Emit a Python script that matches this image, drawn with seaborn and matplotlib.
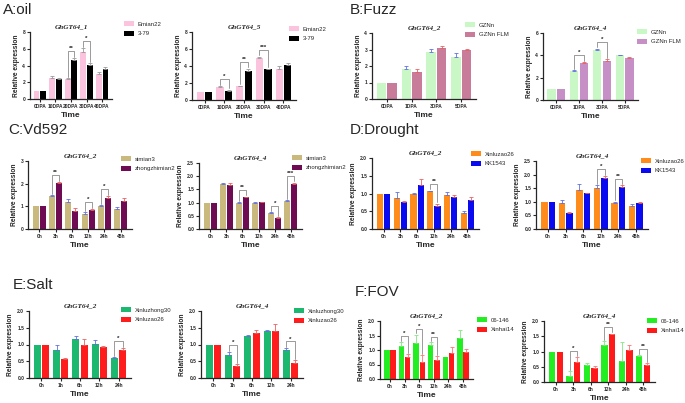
import numpy as np
import pandas as pd
import matplotlib
matplotlib.use('Agg')
import matplotlib.pyplot as plt
from matplotlib.patches import Patch
import seaborn as sns

sns.set_style('ticks')
plt.rcParams['font.family'] = ['Liberation Sans', 'DejaVu Sans']

W, H = 685, 403

# categories
dpa5 = ['0DPA', '10DPA', '20DPA', '30DPA', '40DPA']
dpa4 = ['0DPA', '1DPA', '3DPA', '5DPA']
hours6 = ['0h', '3h', '6h', '12h', '24h', '48h']
hours5 = ['0h', '1h', '6h', '12h', '24h']

# A: oil
a1_emian22 = [1.0, 2.5, 2.4, 5.6, 3.0]
a1_emian22_err = [0, 0.3, 0.1, 0.5, 0.2]
a1_379 = [1.0, 2.4, 4.6, 4.1, 3.6]
a1_379_err = [0, 0.1, 0.3, 0.2, 0.2]
a1_sig = [(2, '**'), (3, '*')]

a2_emian22 = [1.0, 1.5, 1.6, 5.0, 3.6]
a2_emian22_err = [0, 0.15, 0.1, 0.1, 0.4]
a2_379 = [1.0, 1.1, 3.4, 3.6, 4.1]
a2_379_err = [0, 0.1, 0.3, 0.1, 0.2]
a2_sig = [(1, '*'), (2, '**'), (3, '***')]

# B: Fuzz
b1_gznn = [1.0, 1.8, 2.85, 2.55]
b1_gznn_err = [0, 0.22, 0.2, 0.25]
b1_flm = [1.0, 1.65, 3.1, 3.0]
b1_flm_err = [0, 0.15, 0.1, 0.05]

b2_gznn = [1.0, 2.6, 4.5, 4.0]
b2_gznn_err = [0, 0.1, 0.1, 0.05]
b2_flm = [1.0, 3.3, 3.45, 3.75]
b2_flm_err = [0, 0.1, 0.2, 0.1]
b2_sig = [(1, '*'), (2, '*')]

# C: Vd592
c1_simian3 = [1.0, 1.45, 1.18, 0.68, 1.0, 0.9]
c1_simian3_err = [0, 0.05, 0.15, 0.05, 0.05, 0.05]
c1_zzm2 = [1.0, 2.02, 0.8, 0.85, 1.38, 1.25]
c1_zzm2_err = [0, 0.05, 0.12, 0.03, 0.08, 0.12]
c1_sig = [(1, '**'), (3, '*'), (4, '*')]

c2_simian3 = [1.0, 1.72, 1.0, 0.98, 0.6, 1.05]
c2_simian3_err = [0, 0.03, 0.02, 0.05, 0.03, 0.05]
c2_zzm2 = [1.0, 1.68, 1.2, 1.02, 0.42, 1.7]
c2_zzm2_err = [0, 0.07, 0.03, 0.02, 0.03, 0.05]
c2_sig = [(2, '**'), (4, '*'), (5, '***')]

# D: Drought
d1_xlz26 = [1.0, 0.87, 1.0, 1.06, 0.97, 0.45]
d1_xlz26_err = [0, 0.18, 0.02, 0.02, 0.08, 0.07]
d1_kk1543 = [1.0, 0.77, 1.23, 0.66, 0.89, 0.81]
d1_kk1543_err = [0, 0.03, 0.17, 0.05, 0.08, 0.1]
d1_sig = [(3, '**')]

d2_xlz26 = [1.0, 0.95, 1.45, 1.52, 0.97, 0.85]
d2_xlz26_err = [0, 0.1, 0.2, 0.1, 0.03, 0.08]
d2_kk1543 = [1.0, 0.58, 1.32, 1.87, 1.55, 0.95]
d2_kk1543_err = [0, 0.05, 0.02, 0.07, 0.05, 0.05]
d2_sig = [(3, '*'), (4, '**')]

# E: Salt
e1_xlzh30 = [1.0, 0.84, 1.16, 1.02, 0.61]
e1_xlzh30_err = [0, 0.16, 0.1, 0.1, 0.02]
e1_xlz26 = [1.0, 0.58, 1.0, 0.92, 0.85]
e1_xlz26_err = [0, 0.02, 0.15, 0.03, 0.05]
e1_sig = [(4, '*')]

e2_xlzh30 = [1.0, 0.7, 1.24, 1.4, 0.84]
e2_xlzh30_err = [0, 0.08, 0.05, 0.03, 0.05]
e2_xlz26 = [1.0, 0.36, 1.35, 1.4, 0.45]
e2_xlz26_err = [0, 0.05, 0.08, 0.2, 0.08]
e2_sig = [(1, '*'), (4, '*')]

# F: FOV
f1_06146 = [1.0, 1.15, 1.25, 1.18, 0.75, 1.42]
f1_06146_err = [0, 0.12, 0.28, 0.08, 0, 0.28]
f1_xh14 = [1.0, 0.77, 0.57, 0.67, 0.91, 0.94]
f1_xh14_err = [0, 0.08, 0.25, 0.12, 0.18, 0.08]
f1_sig = [(1, '*'), (2, '*'), (3, '**')]

f2_06146 = [1.0, 0.2, 0.56, 1.22, 0.7, 0.85]
f2_06146_err = [0, 0.15, 0.05, 0.12, 0.6, 0.02]
f2_xh14 = [1.0, 0.66, 0.47, 1.56, 1.06, 0.57]
f2_xh14_err = [0, 0.15, 0.04, 0.03, 0.15, 0.06]
f2_sig = [(1, '*'), (3, '**'), (5, '**')]

fig = plt.figure(figsize=(W / 100, H / 100), dpi=100)


def box(l, r, t, b):
    return [l / W, 1 - b / H, (r - l) / W, (b - t) / H]


def panel(pos, cats, names, vals, errs, colors, ecolors, title, ymax, yticks,
          fmt, sig, leg_xy):
    ax = fig.add_axes(box(*pos))
    df = pd.DataFrame({
        'Time': cats * 2,
        'Line': [names[0]] * len(cats) + [names[1]] * len(cats),
        'Value': vals[0] + vals[1],
    })
    sns.barplot(data=df, x='Time', y='Value', hue='Line', order=cats,
                hue_order=names, palette=colors, errorbar=None, width=0.86,
                gap=0.14, saturation=1, linewidth=0, legend=False, ax=ax)
    tops = []
    for cont, err, ec in zip(ax.containers, errs, ecolors):
        xs = np.array([p.get_x() + p.get_width() / 2 for p in cont.patches])
        ys = np.array([p.get_height() for p in cont.patches])
        e = np.array(err)
        m = e > 0
        ax.errorbar(xs[m], ys[m], yerr=[np.zeros(m.sum()), e[m]], fmt='none',
                    ecolor=ec, elinewidth=0.6, capsize=1.4, capthick=0.6)
        tops.append((xs, ys + e))
    for i, stars in sig:
        x1, t1 = tops[0][0][i], tops[0][1][i]
        x2, t2 = tops[1][0][i], tops[1][1][i]
        yb = max(t1, t2) + 0.1 * ymax
        off = 0.02 * ymax
        ax.plot([x1, x1, x2, x2], [t1 + off, yb, yb, t2 + off],
                color='#8a8a8a', lw=0.6)
        ax.text((x1 + x2) / 2, yb, stars, ha='center', va='bottom',
                fontsize=4.5, fontweight='bold')
    ax.set_ylim(0, ymax)
    ax.set_yticks(yticks)
    ax.set_yticklabels([fmt.format(v) for v in yticks])
    ax.set_title(title, fontsize=5.2, fontstyle='italic', fontweight='bold',
                 family='Liberation Serif', pad=3)
    ax.set_xlabel('Time', fontsize=6, fontweight='bold', labelpad=2)
    ax.set_ylabel('Relative expression', fontsize=4.8, fontweight='bold',
                  labelpad=2)
    ax.tick_params(labelsize=3.5, length=2, width=0.8, pad=1.5)
    for lab in ax.get_xticklabels() + ax.get_yticklabels():
        lab.set_fontweight('bold')
    sns.despine(ax=ax)
    for s in ('left', 'bottom'):
        ax.spines[s].set_linewidth(0.9)
    handles = [Patch(facecolor=c, edgecolor='none', label=n)
               for c, n in zip(colors, names)]
    fig.legend(handles=handles, loc='upper left',
               bbox_to_anchor=(leg_xy[0] / W, 1 - leg_xy[1] / H),
               frameon=False, fontsize=4.3, handlelength=1.7, handleheight=0.9,
               handletextpad=0.6, labelspacing=0.7, borderpad=0,
               borderaxespad=0)
    return ax


grey = ('#9a9a9a', '#9a9a9a')
blue_red = ('#6170e0', '#e86060')

panel((30, 112, 32, 99), dpa5, ['Emian22', '3-79'],
      [a1_emian22, a1_379], [a1_emian22_err, a1_379_err],
      ['#fbc3dd', '#000000'], grey, 'GhGT64_1', 8, [0, 2, 4, 6, 8], '{:g}',
      a1_sig, (124, 21))
panel((192, 296, 32, 100), dpa5, ['Emian22', '3-79'],
      [a2_emian22, a2_379], [a2_emian22_err, a2_379_err],
      ['#fbc3dd', '#000000'], grey, 'GhGT64_5', 8, [0, 2, 4, 6, 8], '{:g}',
      a2_sig, (289, 26))
panel((372, 476, 33, 99), dpa4, ['GZNn', 'GZNn FLM'],
      [b1_gznn, b1_flm], [b1_gznn_err, b1_flm_err],
      ['#c9f7c6', '#c97b9a'], blue_red, 'GhGT64_2', 4, [0, 1, 2, 3, 4], '{:g}',
      [], (465, 22))
panel((543, 638, 33, 100), dpa4, ['GZNn', 'GZNn FLM'],
      [b2_gznn, b2_flm], [b2_gznn_err, b2_flm_err],
      ['#c9f7c6', '#c690c6'], blue_red, 'GhGT64_4', 6, [0, 2, 4, 6], '{:g}',
      b2_sig, (637, 29))
panel((28, 132, 161, 229), hours6, ['simian3', 'zhongzhimian2'],
      [c1_simian3, c1_zzm2], [c1_simian3_err, c1_zzm2_err],
      ['#c9b97d', '#6e0b53'], blue_red, 'GhGT64_2', 3, [0, 1, 2, 3], '{:g}',
      c1_sig, (121, 156))
panel((199, 302, 163, 229), hours6, ['simian3', 'zhongzhimian2'],
      [c2_simian3, c2_zzm2], [c2_simian3_err, c2_zzm2_err],
      ['#c9b97d', '#6e0b53'], blue_red, 'GhGT64_4', 2.5,
      [0, 0.5, 1, 1.5, 2, 2.5], '{:.1f}', c2_sig, (292, 155))
panel((372, 479, 158, 229), hours6, ['Xinluzao26', 'KK1543'],
      [d1_xlz26, d1_kk1543], [d1_xlz26_err, d1_kk1543_err],
      ['#ff8c1a', '#0a0af0'], blue_red, 'GhGT64_2', 2,
      [0, 0.5, 1, 1.5, 2], '{:.1f}', d1_sig, (471, 151))
panel((536, 648, 161, 229), hours6, ['Xinluzao26', 'KK1543'],
      [d2_xlz26, d2_kk1543], [d2_xlz26_err, d2_kk1543_err],
      ['#ff8c1a', '#0a0af0'], blue_red, 'GhGT64_4', 2.5,
      [0, 0.5, 1, 1.5, 2, 2.5], '{:.1f}', d2_sig, (641, 158))
panel((29, 131, 311, 378), hours5, ['Xinluzhong30', 'Xinluzao26'],
      [e1_xlzh30, e1_xlz26], [e1_xlzh30_err, e1_xlz26_err],
      ['#1db870', '#ff1c1c'], blue_red, 'GhGT64_2', 2,
      [0, 0.5, 1, 1.5, 2], '{:.1f}', e1_sig, (121, 307))
panel((201, 303, 311, 378), hours5, ['Xinluzhong30', 'Xinluzao26'],
      [e2_xlzh30, e2_xlz26], [e2_xlzh30_err, e2_xlz26_err],
      ['#1db870', '#ff1c1c'], blue_red, 'GhGT64_4', 2,
      [0, 0.5, 1, 1.5, 2], '{:.1f}', e2_sig, (294, 308))
panel((380, 473, 321, 379), hours6, ['06-146', 'Xinhai14'],
      [f1_06146, f1_xh14], [f1_06146_err, f1_xh14_err],
      ['#22ee22', '#ff1a1a'], ('#80e880', '#ff7070'), 'GhGT64_2', 2,
      [0, 0.5, 1, 1.5, 2], '{:.1f}', f1_sig, (477, 317))
panel((544, 655, 321, 382), hours6, ['06-146', 'Xinhai14'],
      [f2_06146, f2_xh14], [f2_06146_err, f2_xh14_err],
      ['#22ee22', '#ff1a1a'], ('#80e880', '#ff7070'), 'GhGT64_4', 2,
      [0, 0.5, 1, 1.5, 2], '{:.1f}', f2_sig, (647, 318))

for x, y, s in [(3, 10, 'A:oil'), (350, 10, 'B:Fuzz'), (8, 130, 'C:Vd592'),
                (350, 130, 'D:Drought'), (13, 285, 'E:Salt'),
                (355, 292, 'F:FOV')]:
    fig.text(x / W, 1 - y / H, s, fontsize=11, va='center', ha='left')

fig.savefig('out.png', dpi=100)
